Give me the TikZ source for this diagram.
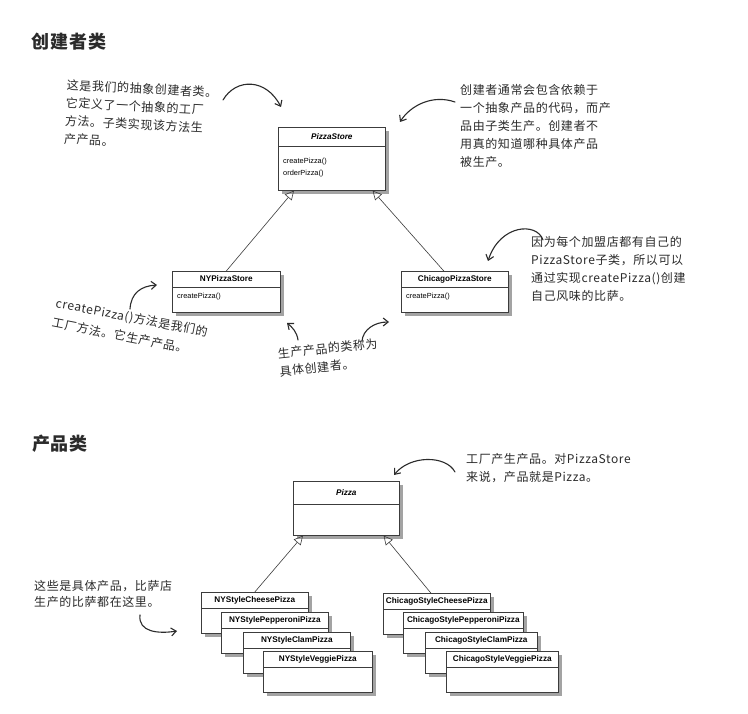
\documentclass[tikz,border=0pt]{standalone}
\usepackage{fontspec}
\setmainfont{Liberation Sans}
\newfontfamily\hand[LetterSpace=5]{Noto Sans CJK SC}
\usepackage{tikz}
\usetikzlibrary{arrows.meta,shadows,calc}
\definecolor{Ink}{HTML}{2B2B2B}
\definecolor{Edge}{HTML}{3C3C3C}
\tikzset{
  classbox/.style={draw=Edge,line width=0.6pt,fill=white,anchor=north west,inner sep=0pt,
    drop shadow={shadow xshift=4pt,shadow yshift=-4pt,fill=black!60,opacity=.6},
    path picture={\draw[Edge,line width=0.8pt] ([yshift=-#1]path picture bounding box.north west) -- ([yshift=-#1]path picture bounding box.north east);}},
  classname/.style={font=\fontsize{8.2}{9}\selectfont\bfseries,inner sep=0pt},
  classop/.style={font=\fontsize{7.4}{9}\selectfont,inner sep=0pt,anchor=west},
  inherit/.style={-{Triangle[open,length=9pt,width=9pt]},line width=0.6pt,draw=Edge},
  note/.style={font=\hand\fontsize{12}{18}\selectfont,text=Ink,align=left,inner sep=0pt,anchor=north west},
  scribble/.style={-{Straight Barb[length=5pt,width=8pt]},line width=1.1pt,draw=Ink,line cap=round},
  heading/.style={font=\hand\bfseries\fontsize{18}{20}\selectfont,text=Ink,inner sep=0pt}
}
\begin{document}
\begin{tikzpicture}[x=1pt,y=-1pt]
  \useasboundingbox[fill=white] (0,0) rectangle (748,714);
  \node[heading] (hcreator) at (69,42) {创建者类};
  \node[heading] (hproduct) at (60,444) {产品类};

  % creator classes
  \node[classbox={19pt},minimum width=107pt,minimum height=63pt] (pstore) at (278,127) {};
  \node[classname] (pstore-n) at ([yshift=-9.5pt]pstore.north) {\itshape PizzaStore};
  \node[classop] (pstore-c) at ([xshift=5pt,yshift=-35pt]pstore.north west) {createPizza()};
  \node[classop] (pstore-o) at ([xshift=5pt,yshift=-47pt]pstore.north west) {orderPizza()};
  \node[classbox={16pt},minimum width=108pt,minimum height=41pt] (ny) at (172,271) {};
  \node[classname] (ny-n) at ([yshift=-8pt]ny.north) {NYPizzaStore};
  \node[classop] (ny-c) at ([xshift=5pt,yshift=-26pt]ny.north west) {createPizza()};
  \node[classbox={16pt},minimum width=107pt,minimum height=41pt] (chi) at (401,271) {};
  \node[classname] (chi-n) at ([yshift=-8pt]chi.north) {ChicagoPizzaStore};
  \node[classop] (chi-c) at ([xshift=5pt,yshift=-26pt]chi.north west) {createPizza()};
  \coordinate (pstore-l) at ([xshift=16pt]pstore.south west);
  \coordinate (pstore-r) at ([xshift=-13pt]pstore.south east);
  \coordinate (chi-t) at ([xshift=-11pt]chi.north);
  \draw[inherit] (ny.north) -- (pstore-l);
  \draw[inherit] (chi-t) -- (pstore-r);

  % product classes
  \node[classbox={23pt},minimum width=106pt,minimum height=54pt] (pizza) at (293,481) {};
  \node[classname] (pizza-n) at ([yshift=-12pt]pizza.north) {\itshape Pizza};
  \foreach \id/\txt/\x/\y/\w in {nyc/NYStyleCheesePizza/201/592/107,nyp/NYStylePepperoniPizza/221/612/107,
      nycl/NYStyleClamPizza/243/632/107,nyv/NYStyleVeggiePizza/263/651/109,
      cc/ChicagoStyleCheesePizza/383/593/107,cp/ChicagoStylePepperoniPizza/403/612/120,
      ccl/ChicagoStyleClamPizza/425/632/112,cv/ChicagoStyleVeggiePizza/446/651/112}{
    \node[classbox={16pt},minimum width=\w pt,minimum height=41pt] (\id) at (\x,\y) {};
    \node[classname] (\id-n) at ([yshift=-8pt]\id.north) {\txt};
  }
  \coordinate (pizza-l) at ([xshift=10pt]pizza.south west);
  \coordinate (pizza-r) at ([xshift=-16pt]pizza.south east);
  \coordinate (cc-t) at ([xshift=-6pt]cc.north);
  \draw[inherit] (nyc.north) -- (pizza-l);
  \draw[inherit] (cc-t) -- (pizza-r);

  % notes
  \node[note,rotate=-3] (n-abs) at (67,79) {这是我们的抽象创建者类。\\它定义了一个抽象的工厂\\方法。子类实现该方法生\\产产品。};
  \node[note] (n-dep) at (460,84) {创建者通常会包含依赖于\\一个抽象产品的代码，而产\\品由子类生产。创建者不\\用真的知道哪种具体产品\\被生产。};
  \node[note,rotate=-11,font=\hand\fontsize{12}{20}\selectfont] (n-fm) at (57,297) {createPizza()方法是我们的\\工厂方法。它生产产品。};
  \node[note,rotate=6] (n-cc) at (277,348) {生产产品的类称为\\具体创建者。};
  \node[note] (n-own) at (531,236) {因为每个加盟店都有自己的\\PizzaStore子类，所以可以\\通过实现createPizza()创建\\自己风味的比萨。};
  \node[note] (n-prod) at (466,453) {工厂产生产品。对PizzaStore\\来说，产品就是Pizza。};
  \node[note,font=\hand\fontsize{12}{16}\selectfont] (n-conc) at (34,580) {这些是具体产品，比萨店\\生产的比萨都在这里。};

  % hand-drawn pointers
  \coordinate (a1-s) at (223,100); \coordinate (a1-e) at (281,107);
  \coordinate (a2-s) at (455,102); \coordinate (a2-e) at (400,122);
  \coordinate (a3-s) at (130,309); \coordinate (a3-e) at (157,285);
  \coordinate (a4-s) at (298,340); \coordinate (a4-e) at (287,323);
  \coordinate (a5-s) at (362,341); \coordinate (a5-e) at (389,322);
  \coordinate (a6-s) at (543,240); \coordinate (a6-e) at (488,261);
  \coordinate (a7-s) at (455,472); \coordinate (a7-e) at (394,475);
  \coordinate (a8-s) at (140,615); \coordinate (a8-e) at (177,631);
  \draw[scribble] (a1-s) .. controls (236,78) and (266,78) .. (a1-e);
  \draw[scribble] (a2-s) .. controls (432,94) and (410,106) .. (a2-e);
  \draw[scribble] (a3-s) .. controls (131,293) and (141,286) .. (a3-e);
  \draw[scribble] (a4-s) .. controls (297,332) and (292,327) .. (a4-e);
  \draw[scribble] (a5-s) .. controls (363,330) and (374,322) .. (a5-e);
  \draw[scribble] (a6-s) .. controls (537,222) and (500,224) .. (a6-e);
  \draw[scribble] (a7-s) .. controls (446,455) and (410,455) .. (a7-e);
  \draw[scribble] (a8-s) .. controls (138,632) and (158,634) .. (a8-e);
\end{tikzpicture}
\end{document}
